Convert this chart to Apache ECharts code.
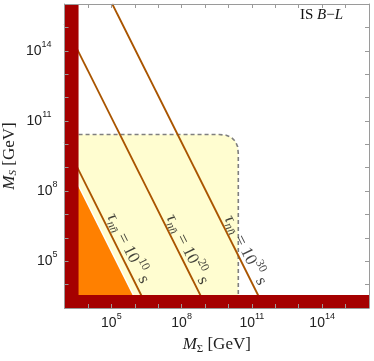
<!DOCTYPE html>
<html><head><meta charset="utf-8">
<script src="https://cdn.jsdelivr.net/npm/echarts@6/dist/echarts.min.js"></script>
<style>html,body{margin:0;padding:0;background:#fff}#c{width:374px;height:361px}</style>
</head><body><div id="c"></div>
<script>
// All values are log10 of the mass in GeV
const axisMin = 3, axisMax = 16;
const tickLabels = [5, 8, 11, 14];
const redLeft = [[3, 3], [3.6, 3], [3.6, 16], [3, 16]];
const redBottom = [[3, 3], [16, 3], [16, 3.56], [3, 3.56]];
const yellowRegion = [[3, 3], [3, 10.42], [9.6, 10.42], [9.9, 10.39], [10.12, 10.3], [10.3, 10.12], [10.39, 9.9], [10.42, 9.6], [10.42, 3]];
const dashedBoundary = [[3.6, 10.42], [9.6, 10.42], [9.9, 10.39], [10.12, 10.3], [10.3, 10.12], [10.39, 9.9], [10.42, 9.6], [10.42, 3.56]];
const orangeRegion = [[3, 3], [3, 9.43], [6.215, 3]];
const tauExponents = ['10', '20', '30'];
const tau10 = [[3, 10.1], [6.55, 3]];
const tau20 = [[3, 15.15], [9.075, 3]];
const tau30 = [[5.04, 16], [11.54, 3]];
const tauLabelPos = [[5.71, 5.55], [8.24, 5.51], [10.72, 5.47]];

const RED = '#A50000', ORANGE = '#FF8000', YELLOW = '#FFFDD0', BROWN = '#AA5500', FRAME = '#9a9a9a';
const SERIF = '"Liberation Serif","Times New Roman",serif';
const SANS = '"Liberation Sans",Arial,sans-serif';

function polySeries(pts, fill, z, stroke, lw) {
  return {
    type: 'custom', z: z, clip: true, silent: true,
    data: [pts[0]],
    renderItem: function (params, api) {
      return {
        type: 'polygon',
        shape: { points: pts.map(p => api.coord(p)) },
        style: { fill: fill, stroke: stroke || null, lineWidth: lw || 0 }
      };
    }
  };
}
function lineSeries(pts, color, z, dashed) {
  return {
    type: 'line', data: pts, z: z, symbol: 'none', silent: true, clip: true,
    lineStyle: { color: color, width: dashed ? 1.6 : 1.8, type: dashed ? [4, 3] : 'solid' }
  };
}

const tickRich = {
  b: { fontFamily: SANS, fontSize: 14, color: '#222', lineHeight: 22 },
  s: { fontFamily: SANS, fontSize: 9, color: '#222', lineHeight: 9, verticalAlign: 'top' },
  s2: { fontFamily: SANS, fontSize: 9, color: '#222', lineHeight: 9, verticalAlign: 'top' }
};
function tickFmt(v) {
  if (tickLabels.indexOf(v) < 0) return '';
  return '{b|10}{s|' + v + '}';
}
const yTickRich = JSON.parse(JSON.stringify(tickRich));
yTickRich.s2.padding = [0, 6, 0, 0];
function yTickFmt(v) {
  if (tickLabels.indexOf(v) < 0) return '';
  return '{b|10}{' + (String(v).length > 1 ? 's2' : 's') + '|' + v + '}';
}

function baseAxis(extra) {
  return Object.assign({
    type: 'value', min: axisMin, max: axisMax, interval: 1, z: 10,
    axisLine: { show: true, lineStyle: { color: FRAME, width: 1 } },
    axisTick: { show: true, inside: true, length: 4, lineStyle: { color: FRAME } },
    splitLine: { show: false }
  }, extra);
}

const labelRich = {
  t: { fontFamily: SERIF, fontStyle: 'italic', fontSize: 17, color: '#111', lineHeight: 26 },
  sub: { fontFamily: SERIF, fontStyle: 'italic', fontSize: 12, color: '#111', lineHeight: 12, padding: [9, 0, 0, 0] },
  r: { fontFamily: SERIF, fontSize: 17, color: '#111', lineHeight: 26 },
  sup: { fontFamily: SERIF, fontSize: 12, color: '#111', lineHeight: 12, verticalAlign: 'top' }
};

const option = {
  animation: false,
  backgroundColor: '#fff',
  grid: { left: 64.5, right: 5, top: 4, bottom: 53, containLabel: false, outerBoundsMode: 'none' },
  title: {
    text: '{r|IS }{i|B}{r|\u2212}{i|L}', right: 26, top: 3,
    textStyle: {
      fontWeight: 'normal',
      rich: {
        r: { fontFamily: SERIF, fontSize: 15, color: '#111', fontWeight: 'normal' },
        i: { fontFamily: SERIF, fontStyle: 'italic', fontSize: 15, color: '#111', fontWeight: 'normal' }
      }
    }
  },
  xAxis: [
    baseAxis({
      position: 'bottom',
      axisLabel: { formatter: tickFmt, rich: tickRich, margin: 4 },
      name: '{i|M}{sub|\u03A3}{r| [GeV]}', nameLocation: 'middle', nameGap: 26,
      nameTextStyle: {
        rich: {
          i: { fontFamily: SERIF, fontStyle: 'italic', fontSize: 17, color: '#222', lineHeight: 22 },
          sub: { fontFamily: SERIF, fontSize: 11, color: '#222', lineHeight: 11, padding: [8, 0, 0, 0] },
          r: { fontFamily: SERIF, fontSize: 17, color: '#222', lineHeight: 22 }
        }
      }
    }),
    baseAxis({ position: 'top', axisLabel: { show: false } })
  ],
  yAxis: [
    baseAxis({
      position: 'left',
      axisLabel: { formatter: yTickFmt, rich: yTickRich, margin: 7 },
      name: '{i|M}{sub|S}{r| [GeV]}', nameLocation: 'middle', nameGap: 44, nameRotate: 90,
      nameMoveOverlap: false,
      nameTextStyle: {
        rich: {
          i: { fontFamily: SERIF, fontStyle: 'italic', fontSize: 17, color: '#222', lineHeight: 22 },
          sub: { fontFamily: SERIF, fontStyle: 'italic', fontSize: 11, color: '#222', lineHeight: 11, padding: [8, 0, 0, 0] },
          r: { fontFamily: SERIF, fontSize: 17, color: '#222', lineHeight: 22 }
        }
      }
    }),
    baseAxis({ position: 'right', axisLabel: { show: false } })
  ],
  series: [
    polySeries(yellowRegion, YELLOW, 1),
    polySeries(orangeRegion, ORANGE, 2, '#ffffff', 1.4),
    lineSeries(dashedBoundary, '#7f7f7f', 3, true),
    lineSeries(tau10, BROWN, 4),
    lineSeries(tau20, BROWN, 4),
    lineSeries(tau30, BROWN, 4),
    polySeries(redLeft, RED, 5),
    polySeries(redBottom, RED, 5),
    {
      type: 'scatter', z: 6, symbolSize: 0, silent: true,
      data: tauLabelPos.map((p, i) => ({ value: p, exp: tauExponents[i] })),
      label: {
        show: true, position: 'inside', rotate: -63.43,
        formatter: function (p) {
          return '{t|\u03C4}{sub|nn\u0304}{r| = 10}{sup|' + tauExponents[p.dataIndex] + '}{r| s}';
        },
        rich: labelRich
      }
    }
  ]
};
const chart = echarts.init(document.getElementById('c'), null, { renderer: 'canvas' });
chart.setOption(option);
</script>
</body></html>
